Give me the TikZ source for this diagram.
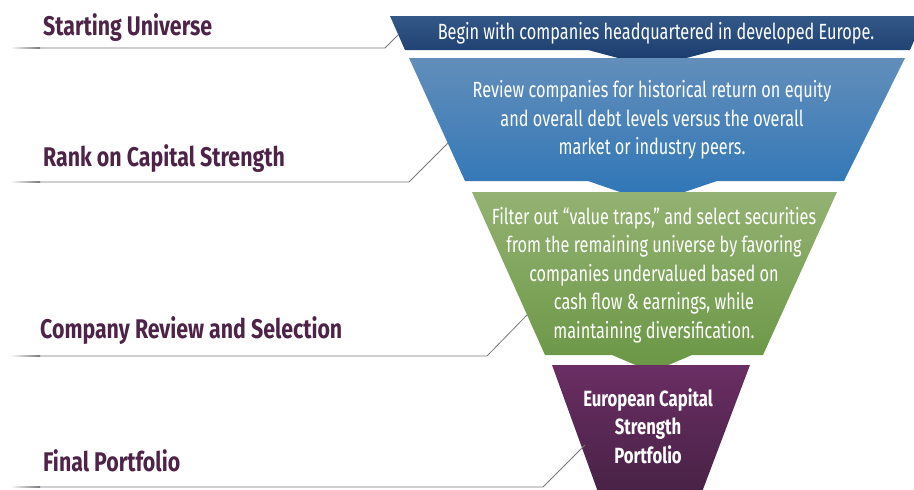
\documentclass[tikz,border=0pt]{standalone}
\usepackage{fontspec}
\setmainfont{Fira Sans}
\newfontfamily\condfont[FakeStretch=0.74]{Fira Sans}
\newfontfamily\boldcond[FakeStretch=0.76]{Fira Sans}
\newfontfamily\labfont[FakeStretch=0.79]{Fira Sans}
\definecolor{labcol}{RGB}{78,35,72}
\definecolor{linegray}{RGB}{120,120,125}
\definecolor{dbTop}{RGB}{52,88,136}
\definecolor{dbBot}{RGB}{22,56,106}
\definecolor{blTop}{RGB}{98,142,186}
\definecolor{blBot}{RGB}{45,117,183}
\definecolor{grTop}{RGB}{148,178,115}
\definecolor{grBot}{RGB}{106,150,68}
\definecolor{puTop}{RGB}{106,46,99}
\definecolor{puBot}{RGB}{72,34,70}
\tikzset{
  lab/.style={anchor=base west, inner sep=0pt, text=labcol, font=\labfont\bfseries\fontsize{27}{32}\selectfont},
  ftext/.style={align=center, inner sep=0pt, text=white, font=\condfont\fontsize{22}{28.5}\selectfont},
  leader/.style={draw=linegray, line width=0.8pt},
}
\begin{document}
\begin{tikzpicture}[x=1pt,y=-1pt]
\useasboundingbox (0,0) rectangle (914,490);
\clip (0,0) rectangle (914,490);
% funnel bands
\shade[top color=dbTop, bottom color=dbBot]
  (390,16) -- (925,16) -- (910,50) -- (717,50) -- (652,67) -- (588,50) -- (405,50) -- cycle;
\shade[top color=blTop, bottom color=blBot]
  (409,58) -- (905,58) -- (844,181) -- (717,181) -- (652,203) -- (588,181) -- (465,181) -- cycle;
\shade[top color=grTop, bottom color=grBot]
  (472,192) -- (837,192) -- (763,355) -- (692,355) -- (652,372) -- (612,355) -- (545,355) -- cycle;
\shade[top color=puTop, bottom color=puBot]
  (552,365) -- (750,365) -- (702,492) -- (598,492) -- cycle;
% funnel texts
\node[ftext] (t1) at (656,33) {Begin with companies headquartered in developed Europe.};
\node[ftext] (t2) at (652,120) {Review companies for historical return on equity\\and overall debt levels versus the overall\\market or industry peers.};
\node[ftext] (t3) at (654,275) {Filter out “value traps,” and select securities\\from the remaining universe by favoring\\companies undervalued based on\\cash flow \& earnings, while\\maintaining diversification.};
\node[ftext, font=\boldcond\bfseries\fontsize{22}{28.5}\selectfont] (t4) at (648,426) {European Capital\\Strength\\Portfolio};
% labels
\node[lab] (l1) at (43,35) {Starting Universe};
\node[lab] (l2) at (43,166) {Rank on Capital Strength};
\node[lab] (l3) at (40,338) {Company Review and Selection};
\node[lab] (l4) at (43,471) {Final Portfolio};
% leader lines
\coordinate (a0) at (40,48);  \coordinate (a1) at (385,48);  \coordinate (a2) at (398,35);
\coordinate (b0) at (40,182); \coordinate (b1) at (409,182); \coordinate (b2) at (448,143);
\coordinate (c0) at (40,356); \coordinate (c1) at (487,356); \coordinate (c2) at (527,315);
\coordinate (d0) at (40,487); \coordinate (d1) at (543,487); \coordinate (d2) at (585,445);
\draw[leader] (a0) -- (a1) -- (a2);
\draw[leader] (b0) -- (b1) -- (b2);
\draw[leader] (c0) -- (c1) -- (c2);
\draw[leader] (d0) -- (d1) -- (d2);
\foreach \yy in {48,182,356,487}{
  \shade[left color=white, right color=linegray] (10,\yy-0.4) rectangle (40.2,\yy+0.4);
}
\end{tikzpicture}
\end{document}
